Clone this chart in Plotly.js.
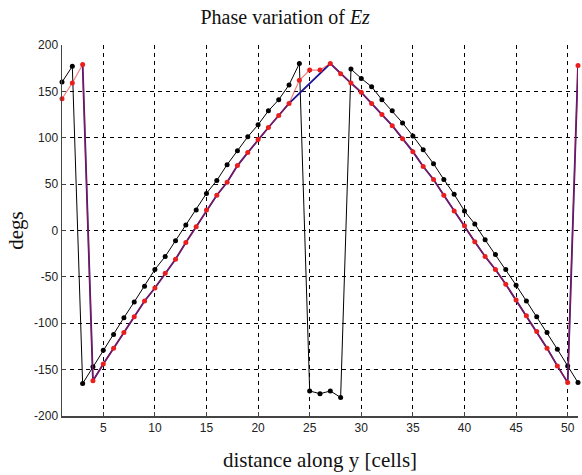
<!DOCTYPE html>
<html>
<head>
<meta charset="utf-8">
<script src="https://cdn.plot.ly/plotly-3.0.1.min.js"></script>
<style>html,body{margin:0;padding:0;background:#fff;}#chart{width:582px;height:475px;}</style>
</head>
<body>
<div id="chart"></div>
<script>
// cell index along y
var cells = [1,2,3,4,5,6,7,8,9,10,11,12,13,14,15,16,17,18,19,20,21,22,23,24,25,26,
  27,28,29,30,31,32,33,34,35,36,37,38,39,40,41,42,43,44,45,46,47,48,49,50,51];

// black series (with markers)
var blackPhase = [160,177,-165,-147,-129,-112,-94,-77,-60,-42,-28,-11,6,22,40,54,71,86,101,114,129,141,157,180,
  -173,-176,-173,-180,
  174,164,155,141,129,116,102,87,72,55,39,21,7,-10,-26,-42,-59,-76,-93,-110,-128,-146,-164];

// red series (with markers)
var redPhase = [142,159,179,-162,-144,-127,-110,-93,-76,-62,-46,-31,-13,4,22,38,52,70,84,98,111,124,137,162,
  173,173,180,169,159,149,137,125,113,99,85,69,55,38,21,5,-12,-28,-42,-58,-75,-92,-109,-127,-146,-164,178];

// blue reference line (no markers)
var blueCells = [3,4,5,6,7,8,9,10,11,12,13,14,15,16,17,18,19,20,21,22,23,
  27,28,29,30,31,32,33,34,35,36,37,38,39,40,41,42,43,44,45,46,47,48,49,50,51];
var bluePhase = [179,-162,-144,-127,-110,-93,-76,-62,-46,-31,-13,4,22,38,52,70,84,98,111,124,137,
  180,169,159,149,137,125,113,99,85,69,55,38,21,5,-12,-28,-42,-58,-75,-92,-109,-127,-146,-164,178];

var xTicks = [5,10,15,20,25,30,35,40,45,50];
var yTicks = [-200,-150,-100,-50,0,50,100,150,200];

var traces = [
  {x: cells, y: blackPhase, mode: 'lines+markers', type: 'scatter', cliponaxis: false,
   line: {color: '#000', width: 1}, marker: {color: '#000', size: 5}},
  {x: blueCells, y: bluePhase, mode: 'lines', type: 'scatter', cliponaxis: false,
   line: {color: 'rgb(30,20,150)', width: 1.8}},
  {x: cells, y: redPhase, mode: 'lines+markers', type: 'scatter', cliponaxis: false,
   line: {color: 'rgba(235,20,20,0.55)', width: 1.2}, marker: {color: 'rgb(235,30,30)', size: 5}}
];

var axisFont = {family: 'Liberation Sans, Arial, sans-serif', size: 12, color: '#222'};
var serif = 'Liberation Serif, Times New Roman, serif';
var layout = {
  width: 582, height: 475,
  margin: {l: 62, r: 4, t: 45, b: 59},
  paper_bgcolor: '#fff', plot_bgcolor: '#fff',
  showlegend: false,
  title: {text: 'Phase variation of <i>Ez</i>', x: 0.49, xanchor: 'center', y: 0.964, yanchor: 'middle',
          font: {family: serif, size: 20, color: '#111'}},
  xaxis: {range: [1, 51], tickvals: xTicks, ticktext: xTicks.map(String),
          showline: true, linecolor: '#444', linewidth: 1.5, mirror: false,
          ticks: 'inside', ticklen: 4, tickcolor: '#444',
          showgrid: true, gridcolor: '#000', gridwidth: 1, griddash: '4px,4px',
          zeroline: false, tickfont: axisFont,
          title: {text: 'distance along y [cells]', standoff: 18,
                  font: {family: serif, size: 21, color: '#111'}}},
  yaxis: {range: [-200, 200], tickvals: yTicks, ticktext: yTicks.map(String),
          showline: true, linecolor: '#444', linewidth: 1.5, mirror: false,
          ticks: 'inside', ticklen: 4, tickcolor: '#444',
          showgrid: true, gridcolor: '#000', gridwidth: 1, griddash: '4px,4px',
          zeroline: false, tickfont: axisFont,
          title: {text: 'degs', standoff: 4,
                  font: {family: serif, size: 21, color: '#111'}}}
};

Plotly.newPlot('chart', traces, layout, {displayModeBar: false, staticPlot: true});
</script>
</body>
</html>
